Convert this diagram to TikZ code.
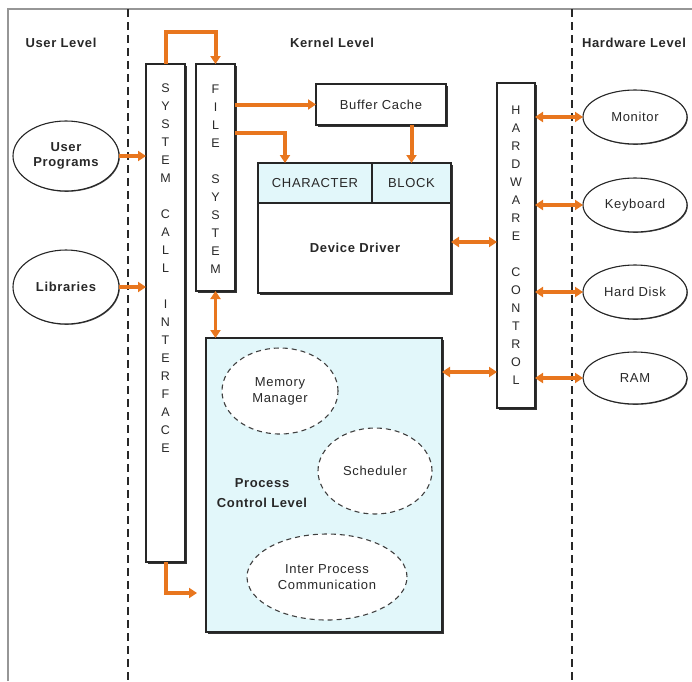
\documentclass[tikz,border=0pt]{standalone}
\usepackage{fontspec}
\setmainfont{Liberation Sans}[LetterSpace=5]
\usetikzlibrary{arrows.meta,shadows,shapes.geometric}

\definecolor{flow}{RGB}{232,118,30}
\definecolor{pale}{RGB}{226,247,250}
\definecolor{ink}{RGB}{40,40,40}
\definecolor{frame}{RGB}{150,150,150}

\begin{document}
\begin{tikzpicture}[x=1pt,y=-1pt,
  every node/.style={inner sep=0pt,outer sep=0pt,text=ink},
  lbl/.style={font=\fontsize{13}{15}\selectfont},
  blbl/.style={font=\fontsize{13}{15.5}\selectfont\bfseries,align=center},
  vtext/.style={font=\fontsize{12.5}{18}\selectfont,align=center},
  boxshadow/.style={drop shadow={shadow xshift=1.6pt,shadow yshift=-1.6pt,fill=black!80,opacity=1}},
  panel/.style={draw=black!85,line width=1.2pt,fill=white,boxshadow},
  cell/.style={draw=black!85,line width=1.2pt,fill=pale},
  device/.style={ellipse,draw=black!85,line width=1.1pt,fill=white,
    drop shadow={shadow xshift=0.8pt,shadow yshift=-0.8pt,fill=black!70,opacity=1}},
  task/.style={ellipse,draw=black!75,line width=1.1pt,dash pattern=on 5pt off 4pt,fill=white},
  divider/.style={draw=ink,line width=1.8pt,dash pattern=on 8pt off 5pt},
  tip/.style={Triangle[length=8pt,width=10pt]},
  oarrow/.style={draw=flow,line width=4pt,-{Triangle[length=8pt,width=10pt]}},
  darrow/.style={draw=flow,line width=3.6pt,{Triangle[length=8pt,width=10pt]}-{Triangle[length=8pt,width=10pt]}},
]
\useasboundingbox (0,0) rectangle (692,681);

% outer frame and level separators
\draw[frame,line width=1.5pt] (8,681) -- (8,9) -- (692,9);
\coordinate (sepUtop) at (128,9);   \coordinate (sepUbot) at (128,681);
\coordinate (sepHtop) at (572,9);   \coordinate (sepHbot) at (572,681);
\draw[divider] (sepUtop) -- (sepUbot);
\draw[divider] (sepHtop) -- (sepHbot);

% level titles
\node[blbl] (userlvl) at (61,43) {User Level};
\node[blbl] (kernlvl) at (332,43) {Kernel Level};
\node[blbl] (hwlvl) at (634,43) {Hardware Level};

% user level
\node[device,minimum width=106pt,minimum height=70pt] (up) at (66,156) {};
\node[blbl] at (up.center) {User\\Programs};
\node[device,minimum width=106pt,minimum height=74pt] (lib) at (66,287) {};
\node[blbl] at (lib.center) {Libraries};

% kernel columns
\node[panel,minimum width=39pt,minimum height=498pt] (sci) at (165.5,313) {};
\node[vtext] (scitext) at (165.5,268) {S\\Y\\S\\T\\E\\M\\[18pt]C\\A\\L\\L\\[18pt]I\\N\\T\\E\\R\\F\\A\\C\\E};
\node[panel,minimum width=39pt,minimum height=227pt] (fs) at (215.5,177.5) {};
\node[vtext] (fstext) at (215.5,179) {F\\I\\L\\E\\[18pt]S\\Y\\S\\T\\E\\M};

\node[panel,minimum width=130pt,minimum height=41pt] (bc) at (381,104.5) {};
\node[lbl] at (bc.center) {Buffer Cache};

% device driver with its two header cells
\node[panel,minimum width=193pt,minimum height=130pt] (dd) at (354.5,228) {};
\node[cell,minimum width=114pt,minimum height=40pt] (chr) at (315,183) {};
\node[lbl] at (chr.center) {CHARACTER};
\node[cell,minimum width=79pt,minimum height=40pt] (blk) at (411.5,183) {};
\node[lbl] at (blk.center) {BLOCK};
\node[blbl] (ddtext) at (355,248) {Device Driver};

% process control
\node[panel,fill=pale,minimum width=236pt,minimum height=294pt] (pcl) at (324,485) {};
\node[task,minimum width=116pt,minimum height=86pt] (mm) at (280,391) {};
\node[lbl,align=center,font=\fontsize{13}{16}\selectfont] at (mm.center) {Memory\\Manager};
\node[task,minimum width=114pt,minimum height=86pt] (sch) at (375,471) {};
\node[lbl] at (sch.center) {Scheduler};
\node[task,minimum width=160pt,minimum height=86pt] (ipc) at (327,577) {};
\node[lbl,align=center,font=\fontsize{13}{16}\selectfont] at (ipc.center) {Inter Process\\Communication};
\node[blbl,font=\fontsize{13}{20}\selectfont\bfseries] (pcltext) at (262,493) {Process\\Control Level};

% hardware control
\node[panel,minimum width=38pt,minimum height=325pt] (hc) at (516,245.5) {};
\node[vtext] (hctext) at (516,245) {H\\A\\R\\D\\W\\A\\R\\E\\[18pt]C\\O\\N\\T\\R\\O\\L};

% hardware level
\node[device,minimum width=104pt,minimum height=54pt] (mon) at (635,117) {};
\node[lbl] at (mon.center) {Monitor};
\node[device,minimum width=104pt,minimum height=54pt] (kbd) at (635,205) {};
\node[lbl] at (kbd.center) {Keyboard};
\node[device,minimum width=104pt,minimum height=54pt] (hdd) at (635,292) {};
\node[lbl] at (hdd.center) {Hard Disk};
\node[device,minimum width=104pt,minimum height=52pt] (ram) at (635,378) {};
\node[lbl] at (ram.center) {RAM};

% data paths
\draw[oarrow] (up.east) -- (sci.west |- up.east);
\draw[oarrow] (lib.east) -- (sci.west |- lib.east);
\draw[oarrow] (sci.north) -- ++(0,-32) -| (fs.north);
\draw[oarrow] (fs.east |- bc.west) -- (bc.west);
\draw[oarrow] ([yshift=-69pt]fs.north east) -| ([xshift=-30pt]chr.north);
\draw[oarrow] (bc.south -| blk.north) -- (blk.north);
\draw[darrow] ([yshift=-14pt]dd.east) -- ([yshift=-14pt]dd.east -| hc.west);
\draw[darrow] ([yshift=-34pt]pcl.north east) -- ([yshift=-34pt]pcl.north east -| hc.west);
\draw[darrow] (fs.south) -- (fs.south |- pcl.north);
\coordinate (sciend) at (197,593);
\draw[oarrow] (sci.south) |- (sciend);
\draw[darrow] (hc.east |- mon.west) -- (mon.west);
\draw[darrow] (hc.east |- kbd.west) -- (kbd.west);
\draw[darrow] (hc.east |- hdd.west) -- (hdd.west);
\draw[darrow] (hc.east |- ram.west) -- (ram.west);
\end{tikzpicture}
\end{document}
